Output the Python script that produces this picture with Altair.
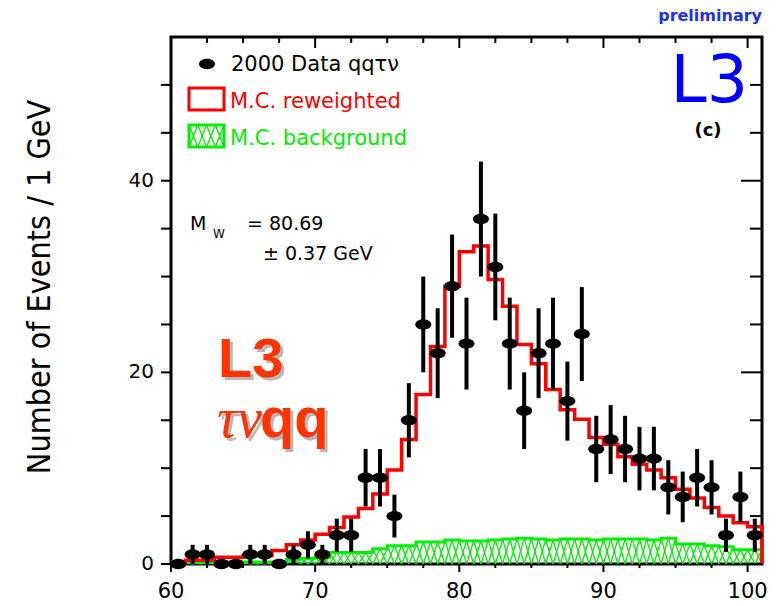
import altair as alt
import pandas as pd

# ---------------------------------------------------------------- data
# 1 GeV bins, lower edges 60 ... 100 GeV
bin_lo = list(range(60, 101))

# Observed events per bin (2000 data, qq tau nu)
data_counts = [0, 1, 1, 0, 0, 1, 1, 0, 1, 2,
               1, 3, 3, 9, 9, 5, 15, 25, 22, 29,
               23, 36, 31, 23, 16, 22, 23, 17, 24, 12,
               13, 12, 11, 11, 8, 7, 9, 8, 3, 7, 3]

# Reweighted Monte Carlo expectation per bin
mc_reweighted = [0.2, 0.4, 0.4, 0.7, 0.7, 0.9, 0.9, 1.4, 2.0, 2.5,
                 3.1, 3.8, 4.9, 5.8, 7.3, 9.8, 13.0, 17.7, 22.7, 29.0,
                 32.6, 33.2, 29.7, 26.9, 22.9, 20.9, 18.2, 16.1, 15.1, 13.2,
                 12.5, 11.2, 10.4, 9.8, 9.0, 7.8, 6.9, 5.9, 5.0, 4.3, 3.9]

# Monte Carlo background per bin
mc_background = [0.2, 0.2, 0.2, 0.2, 0.2, 0.2, 0.2, 0.2, 0.5, 0.6,
                 0.7, 1.2, 1.2, 1.2, 1.6, 1.9, 1.9, 2.3, 2.3, 2.5,
                 2.4, 2.4, 2.5, 2.6, 2.7, 2.6, 2.5, 2.6, 2.6, 2.5,
                 2.6, 2.6, 2.6, 2.5, 2.7, 2.1, 2.1, 1.9, 1.8, 1.5, 1.5]

# Axis ticks and labels
x_tick_values = [60, 62.5, 65, 67.5, 70, 72.5, 75, 77.5, 80, 82.5,
                 85, 87.5, 90, 92.5, 95, 97.5, 100]
y_tick_values = [0, 5, 10, 15, 20, 25, 30, 35, 40, 45, 50]
x_label_values = [60, 70, 80, 90, 100]
y_label_values = [0, 20, 40]

# ---------------------------------------------------------------- layout
W, H = 591, 527
RED = "#ff0000"
GREEN = "#00ee00"
ORANGE = "#ff3300"
BLUE = "#0000ff"
SANS = "DejaVu Sans"
ELLIPSE = "M -1 0 A 1 0.65 0 1 0 1 0 A 1 0.65 0 1 0 -1 0 Z"

xs = alt.Scale(domain=[60, 101], nice=False, zero=False)
ys = alt.Scale(domain=[0, 55], nice=False, zero=False)

last_edge = bin_lo[-1] + 1


def step_table(values):
    xv = bin_lo + [last_edge, last_edge]
    yv = list(values) + [values[-1], 0]
    return pd.DataFrame({"x": xv, "y": yv, "i": list(range(len(xv)))})


def step_layer(values, color, width):
    return alt.Chart(step_table(values)).mark_line(
        interpolate="step-after", color=color, strokeWidth=width, strokeCap="butt"
    ).encode(
        x=alt.X("x:Q", scale=xs, axis=None),
        y=alt.Y("y:Q", scale=ys, axis=None),
        order="i:Q",
    )


# background cross-hatching: an X in every half bin
hatch_rows = []
for lo, h in zip(bin_lo, mc_background):
    for k in (0.0, 0.5):
        a, b = lo + k, lo + k + 0.5
        hatch_rows.append({"x": a, "x2": b, "y": 0, "y2": h})
        hatch_rows.append({"x": a, "x2": b, "y": h, "y2": 0})
hatch = alt.Chart(pd.DataFrame(hatch_rows)).mark_rule(
    color=GREEN, strokeWidth=1.3
).encode(
    x=alt.X("x:Q", scale=xs, axis=None), x2="x2:Q",
    y=alt.Y("y:Q", scale=ys, axis=None), y2="y2:Q",
)

bg_line = step_layer(mc_background, GREEN, 3)
mc_line = step_layer(mc_reweighted, RED, 3.5)

points = pd.DataFrame({"lo": bin_lo, "n": data_counts})
base = alt.Chart(points).transform_calculate(
    c="datum.lo + 0.5",
    lo_e="datum.n - sqrt(datum.n)",
    hi_e="datum.n + sqrt(datum.n)",
)

err = base.transform_filter("datum.n > 0").mark_rule(
    color="black", strokeWidth=4
).encode(
    x=alt.X("c:Q", scale=xs, axis=None),
    y=alt.Y("lo_e:Q", scale=ys, axis=None),
    y2="hi_e:Q",
)

marks = base.mark_point(
    shape=ELLIPSE, size=256, filled=True, color="black", opacity=1
).encode(
    x=alt.X("c:Q", scale=xs, axis=None),
    y=alt.Y("n:Q", scale=ys, axis=None),
)

# ---------------------------------------------------------------- ticks
xt = pd.DataFrame({"v": x_tick_values})
yt = pd.DataFrame({"v": y_tick_values})
x_major = "datum.v % 10 == 0"
y_major = "datum.v % 20 == 0"


def xtick(filt, y0, y1):
    return alt.Chart(xt).transform_filter(filt).mark_rule(
        color="black", strokeWidth=2
    ).encode(x=alt.X("v:Q", scale=xs, axis=None),
             y=alt.value(y0), y2=alt.value(y1))


def ytick(filt, x0, x1):
    return alt.Chart(yt).transform_filter(filt).mark_rule(
        color="black", strokeWidth=2
    ).encode(y=alt.Y("v:Q", scale=ys, axis=None),
             x=alt.value(x0), x2=alt.value(x1))


ticks = [
    xtick(x_major, H, H + 8), xtick("!(" + x_major + ")", H, H + 4),
    xtick(x_major, 0, 11), xtick("!(" + x_major + ")", 0, 6),
    ytick("true", 0, -10),
    ytick(y_major, W, W - 21), ytick("!(" + y_major + ")", W, W - 12),
]

# tick labels, placed through the shared scales
x_labels = alt.Chart(pd.DataFrame({"v": x_label_values})).mark_text(
    font=SANS, fontSize=21, color="black", align="center", baseline="alphabetic"
).encode(x=alt.X("v:Q", scale=xs, axis=None), y=alt.value(H + 34), text="v:Q")

y_labels = alt.Chart(pd.DataFrame({"v": y_label_values})).mark_text(
    font=SANS, fontSize=20, color="black", align="right", baseline="middle"
).encode(y=alt.Y("v:Q", scale=ys, axis=None), x=alt.value(-17), text="v:Q")


# ---------------------------------------------------------------- text
def label(txt, x, y, **kw):
    opts = dict(align="left", baseline="alphabetic", font=SANS,
                fontSize=19, color="black")
    opts.update(kw)
    return alt.Chart(pd.DataFrame({"t": [txt]})).mark_text(**opts).encode(
        text="t:N", x=alt.value(x), y=alt.value(y))


def seg(x0, y0, x1, y1, color, width):
    return alt.Chart(pd.DataFrame({"t": ["s"]})).mark_rule(
        color=color, strokeWidth=width
    ).encode(x=alt.value(x0), y=alt.value(y0), x2=alt.value(x1), y2=alt.value(y1))


texts = [
    label("Number of Events / 1 GeV", -131, 250, angle=270, align="center",
          baseline="middle",
          font="Liberation Sans Narrow, DejaVu Sans Condensed, Liberation Sans",
          fontSize=32),
    label("preliminary", 591, -16, align="right", fontSize=16,
          fontWeight="bold", color="#2030ee"),
    label("L3", 577, 65, align="right", fontSize=65, color=BLUE),
    label("(c)", 537, 99, align="center", fontSize=18, fontWeight="bold"),
    label("2000 Data qq\u03c4\u03bd", 60, 34, fontSize=21),
    label("M.C. reweighted", 59, 71, fontSize=21, color=RED),
    label("M.C. background", 59, 108, fontSize=21, color=GREEN),
    label("M", 19, 193),
    label("W", 42, 201, fontSize=12),
    label("= 80.69", 76, 193),
    label("\u00b1 0.37 GeV", 92, 223),
    # shadowed channel label
    label("L3", 50, 343, font="Liberation Sans", fontSize=56,
          fontWeight="bold", color="#b8b8b8"),
    label("L3", 47, 340, font="Liberation Sans", fontSize=56,
          fontWeight="bold", color=ORANGE),
    label("\u03c4\u03bd", 49, 403, font="Liberation Serif", fontSize=56,
          fontStyle="italic", color="#b8b8b8"),
    label("\u03c4\u03bd", 46, 400, font="Liberation Serif", fontSize=56,
          fontStyle="italic", color=ORANGE),
    label("qq", 92, 403, font="Liberation Sans", fontSize=56,
          fontWeight="bold", color="#b8b8b8"),
    label("qq", 89, 400, font="Liberation Sans", fontSize=56,
          fontWeight="bold", color=ORANGE),
]

# legend symbols
legend_dot = alt.Chart(pd.DataFrame({"t": ["dot"]})).mark_point(
    shape=ELLIPSE, size=256, filled=True, color="black", opacity=1
).encode(x=alt.value(36), y=alt.value(27))

red_box = alt.Chart(pd.DataFrame({"t": ["box"]})).mark_rect(
    fill="transparent", stroke=RED, strokeWidth=3
).encode(x=alt.value(18), x2=alt.value(53), y=alt.value(51), y2=alt.value(73))

swatch = []
for k in range(4):
    a = 18 + k * 8.75
    b = a + 8.75
    swatch.append(seg(a, 88, b, 110, GREEN, 1.3))
    swatch.append(seg(a, 110, b, 88, GREEN, 1.3))

green_box = alt.Chart(pd.DataFrame({"t": ["box"]})).mark_rect(
    fill="transparent", stroke=GREEN, strokeWidth=3
).encode(x=alt.value(18), x2=alt.value(53), y=alt.value(88), y2=alt.value(110))

chart = alt.layer(
    hatch, bg_line, mc_line, err, marks, *ticks, x_labels, y_labels,
    legend_dot, red_box, *swatch, green_box, *texts,
).properties(
    width=W, height=H,
    padding={"left": 171, "top": 37, "right": 16, "bottom": 42},
    autosize=alt.AutoSizeParams(type="none"),
    background="white",
).configure_view(
    stroke="black", strokeWidth=3,
)

chart.save("out.html", embed_options={"renderer": "svg", "actions": False})
